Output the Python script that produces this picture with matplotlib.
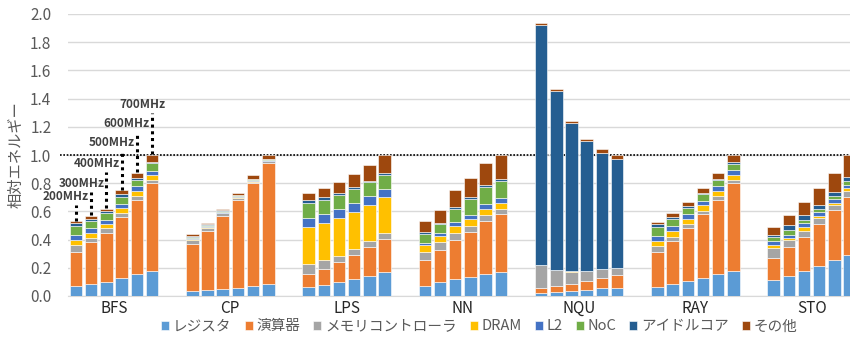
import matplotlib
matplotlib.use("Agg")
import matplotlib.pyplot as plt
import numpy as np

plt.rcParams['font.family'] = ['Noto Sans CJK JP', 'DejaVu Sans']

benchmarks = ['BFS', 'CP', 'LPS', 'NN', 'NQU', 'RAY', 'STO']
freqs = ['200MHz', '300MHz', '400MHz', '500MHz', '600MHz', '700MHz']
components = ['レジスタ', '演算器', 'メモリコントローラ', 'DRAM', 'L2', 'NoC', 'アイドルコア', 'その他']
colors = ['#5B9BD5', '#ED7D31', '#A5A5A5', '#FFC000', '#4472C4', '#70AD47', '#255E91', '#9E480E']

# energy breakdown per bar (benchmark-major, 200MHz..700MHz), normalised to 700MHz
register = [0.070, 0.082, 0.100, 0.125, 0.155, 0.174,
            0.033, 0.042, 0.052, 0.059, 0.073, 0.085,
            0.066, 0.078, 0.100, 0.118, 0.141, 0.167,
            0.073, 0.096, 0.118, 0.136, 0.155, 0.172,
            0.024, 0.028, 0.038, 0.042, 0.054, 0.059,
            0.066, 0.082, 0.106, 0.129, 0.155, 0.176,
            0.113, 0.139, 0.174, 0.212, 0.252, 0.294]
alu = [0.240, 0.298, 0.350, 0.437, 0.525, 0.626,
       0.334, 0.422, 0.518, 0.623, 0.729, 0.861,
       0.087, 0.117, 0.140, 0.174, 0.209, 0.240,
       0.179, 0.229, 0.282, 0.320, 0.379, 0.409,
       0.035, 0.043, 0.047, 0.064, 0.073, 0.092,
       0.247, 0.306, 0.376, 0.452, 0.527, 0.622,
       0.160, 0.212, 0.246, 0.296, 0.355, 0.410]
memctrl = [0.055, 0.030, 0.030, 0.028, 0.030, 0.023,
           0.033, 0.021, 0.016, 0.012, 0.010, 0.012,
           0.071, 0.057, 0.045, 0.044, 0.040, 0.040,
           0.061, 0.059, 0.047, 0.040, 0.040, 0.033,
           0.158, 0.111, 0.082, 0.069, 0.064, 0.049,
           0.045, 0.033, 0.029, 0.021, 0.024, 0.026,
           0.068, 0.044, 0.044, 0.045, 0.038, 0.042]
dram = [0.035, 0.037, 0.033, 0.036, 0.038, 0.037,
        0.002, 0.002, 0.002, 0.009, 0.007, 0.002,
        0.268, 0.263, 0.265, 0.259, 0.252, 0.253,
        0.047, 0.044, 0.047, 0.050, 0.042, 0.045,
        0.000, 0.000, 0.010, 0.000, 0.000, 0.000,
        0.035, 0.040, 0.037, 0.043, 0.040, 0.037,
        0.019, 0.017, 0.023, 0.017, 0.016, 0.017]
l2 = [0.035, 0.035, 0.027, 0.028, 0.032, 0.030,
      0.012, 0.013, 0.010, 0.005, 0.007, 0.005,
      0.061, 0.064, 0.064, 0.064, 0.064, 0.058,
      0.019, 0.021, 0.031, 0.030, 0.036, 0.035,
      0.000, 0.000, 0.000, 0.000, 0.000, 0.000,
      0.033, 0.033, 0.031, 0.030, 0.033, 0.033,
      0.027, 0.021, 0.028, 0.026, 0.026, 0.023]
noc = [0.060, 0.048, 0.046, 0.049, 0.043, 0.050,
       0.004, 0.003, 0.004, 0.005, 0.004, 0.005,
       0.108, 0.103, 0.104, 0.101, 0.101, 0.103,
       0.059, 0.062, 0.094, 0.113, 0.122, 0.120,
       0.000, 0.000, 0.000, 0.000, 0.000, 0.000,
       0.061, 0.052, 0.047, 0.045, 0.045, 0.042,
       0.031, 0.033, 0.024, 0.023, 0.024, 0.028]
idle = [0.020, 0.018, 0.014, 0.017, 0.015, 0.010,
        0.010, 0.007, 0.005, 0.003, 0.003, 0.003,
        0.017, 0.017, 0.014, 0.012, 0.012, 0.009,
        0.018, 0.009, 0.012, 0.012, 0.012, 0.014,
        1.708, 1.273, 1.052, 0.925, 0.826, 0.772,
        0.026, 0.016, 0.009, 0.012, 0.009, 0.012,
        0.012, 0.035, 0.035, 0.028, 0.028, 0.029]
other = [0.015, 0.019, 0.020, 0.030, 0.037, 0.050,
         0.010, 0.008, 0.013, 0.018, 0.028, 0.027,
         0.052, 0.066, 0.080, 0.096, 0.113, 0.130,
         0.076, 0.089, 0.124, 0.139, 0.158, 0.172,
         0.011, 0.010, 0.014, 0.016, 0.023, 0.028,
         0.014, 0.029, 0.029, 0.037, 0.040, 0.052,
         0.062, 0.076, 0.090, 0.116, 0.134, 0.157]

# heights of the frequency call-out labels over the BFS bars
callout_y = [0.707, 0.80, 0.94, 1.089, 1.223, 1.357]

series = [register, alu, memctrl, dram, l2, noc, idle, other]

n_bench = len(benchmarks)
n_freq = len(freqs)
step = 0.1307
width = 0.107
offsets = (np.arange(n_freq) - (n_freq - 1) / 2) * step
xpos = (np.arange(n_bench)[:, None] + offsets[None, :]).ravel()

fig = plt.figure(figsize=(8.5, 3.4), dpi=100)
ax = fig.add_axes([68 / 850, 44 / 340, 782 / 850, 282 / 340])

bottom = np.zeros(len(xpos))
for name, vals, col in zip(components, series, colors):
    vals = np.array(vals)
    ax.bar(xpos, vals, width, bottom=bottom, color=col, label=name,
           edgecolor='white', linewidth=0.4, zorder=3)
    bottom += vals

# dotted leaders from each BFS bar up to its frequency label
for i, label in enumerate(freqs):
    bx = xpos[i]
    ax.plot([bx, bx], [bottom[i] + 0.005, callout_y[i] - 0.06], color='black',
            linestyle=(0, (1, 1.2)), linewidth=2.2, zorder=4)
    ax.text(bx - 0.086, callout_y[i], label, ha='center', va='center',
            fontsize=8.5, fontweight='bold', color='#404040', zorder=5)

ax.axhline(1.0, color='black', linestyle=(0, (1, 1)), linewidth=1.2, zorder=2,
           xmin=-0.01, clip_on=False)

ax.set_xlim(-0.396, 6.33)
ax.set_ylim(0, 2.0)
ax.set_yticks(np.arange(0, 2.01, 0.2))
ax.set_yticklabels([f'{v:.1f}' for v in np.arange(0, 2.01, 0.2)])
ax.yaxis.grid(True, color='#D9D9D9', linewidth=1, zorder=0)
ax.set_axisbelow(True)
ax.set_xticks(np.arange(n_bench))
ax.set_xticklabels(benchmarks, fontsize=11, color='#262626')
ax.tick_params(axis='x', length=0, pad=3)
ax.tick_params(axis='y', length=0, pad=12, labelsize=11, labelcolor='#595959')
for s in ['top', 'right', 'left']:
    ax.spines[s].set_visible(False)
ax.spines['bottom'].set_color('#D9D9D9')

ax.set_ylabel('相対エネルギー', fontsize=11, color='#595959', labelpad=4)

fig.legend(loc='center', bbox_to_anchor=(0.564, 0.04), ncol=8, frameon=False,
           fontsize=10.5, handlelength=0.55, handleheight=0.55, handletextpad=0.25,
           columnspacing=0.9, labelcolor='#595959')

fig.savefig('out.png', dpi=100)
